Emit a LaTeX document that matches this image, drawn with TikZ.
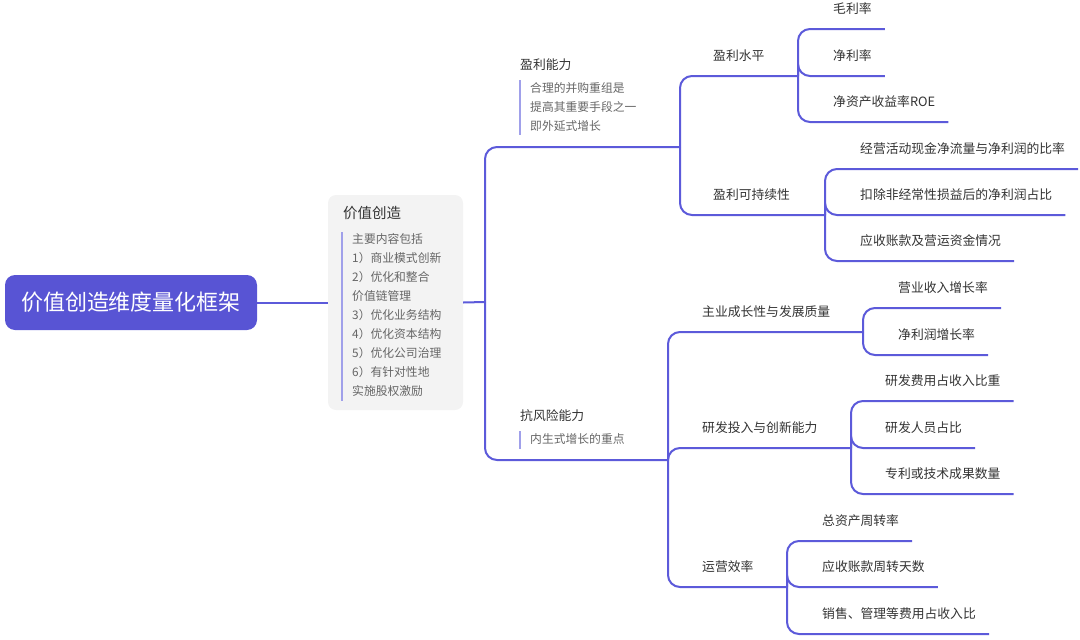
\documentclass[tikz,border=0pt]{standalone}
\usepackage{fontspec}
\setmainfont{Noto Sans CJK SC}
\usetikzlibrary{calc}
\definecolor{linec}{RGB}{92,90,218}
\definecolor{rootc}{RGB}{88,84,212}
\definecolor{boxc}{RGB}{243,243,243}
\definecolor{barc}{RGB}{160,160,234}
\definecolor{textc}{RGB}{51,51,51}
\definecolor{notec}{RGB}{102,102,102}
\tikzset{
  link/.style={draw=linec, line width=2pt, rounded corners=12pt},
  topic/.style={anchor=west, inner sep=0pt, text=textc, font=\fontsize{12.8}{15}\selectfont},
  notetext/.style={anchor=west, inner sep=0pt, text=notec, font=\fontsize{11.8}{14}\selectfont},
  notebar/.style={draw=barc, line width=2pt},
}
\newcommand{\leaf}[4]{% name, x, y(text), label
  \node[topic] (#1) at (#2,#3) {#4};
  \coordinate (#1u) at ($(#1.east)+(13,20)$);
}
\begin{document}
\begin{tikzpicture}[x=1pt,y=-1pt]
\useasboundingbox (0,0) rectangle (1080,640);
% root
\node[fill=rootc, rounded corners=10pt, minimum width=252pt, minimum height=55pt,
      text=white, font=\fontsize{22}{26}\selectfont, inner sep=0pt] (root) at (131,302.5) {价值创造维度量化框架};
% gray box
\node[fill=boxc, rounded corners=8pt, minimum width=135pt, minimum height=215pt, inner sep=0pt] (gray) at (395.5,302.5) {};
\node[anchor=west, inner sep=0pt, text=textc, font=\fontsize{14.5}{17}\selectfont] (gtitle) at (343,213) {价值创造};
\coordinate (gbt) at (342,232);
\coordinate (gbb) at (342,401);
\draw[notebar] (gbt) -- (gbb);
\node[notetext] (g1) at (352,238.5) {主要内容包括};
\node[notetext] (g2) at (352,257.6) {1）商业模式创新};
\node[notetext] (g3) at (352,276.7) {2）优化和整合};
\node[notetext] (g4) at (352,295.8) {价值链管理};
\node[notetext] (g5) at (352,314.9) {3）优化业务结构};
\node[notetext] (g6) at (352,334.0) {4）优化资本结构};
\node[notetext] (g7) at (352,353.1) {5）优化公司治理};
\node[notetext] (g8) at (352,372.2) {6）有针对性地};
\node[notetext] (g9) at (352,391.3) {实施股权激励};
\draw[link] (root.east) -- (gray.west);
% junctions
\coordinate (j1) at (485,302);
\coordinate (j2a) at (680,147);
\coordinate (j2b) at (668,460);
\coordinate (j3a) at (798,76);
\coordinate (j3b) at (825,215);
\coordinate (j3c) at (863,332);
\coordinate (j3d) at (851,448);
\coordinate (j3e) at (787,587);
\draw[link] (gray.east) -- (j1);
% level 1
\node[topic] (a) at (520,65) {盈利能力};
\coordinate (abt) at (520,80);
\coordinate (abb) at (520,135);
\draw[notebar] (abt) -- (abb);
\node[notetext] (an1) at (530,88) {合理的并购重组是};
\node[notetext] (an2) at (530,107) {提高其重要手段之一};
\node[notetext] (an3) at (530,126) {即外延式增长};
\node[topic] (b) at (520,416) {抗风险能力};
\coordinate (bbt) at (520,431);
\coordinate (bbb) at (520,449);
\draw[notebar] (bbt) -- (bbb);
\node[notetext] (bn1) at (530,439) {内生式增长的重点};
\draw[link] (j1) |- (j2a);
\draw[link] (j1) |- (j2b);
% level 2
\node[topic] (a1) at (713,56) {盈利水平};
\node[topic] (a2) at (713,195) {盈利可持续性};
\node[topic] (b1) at (702,312) {主业成长性与发展质量};
\node[topic] (b2) at (702,428) {研发投入与创新能力};
\node[topic] (b3) at (702,567) {运营效率};
\draw[link] (j2a) |- (j3a);
\draw[link] (j2a) |- (j3b);
\draw[link] (j2b) |- (j3c);
\draw[link] (j2b) |- (j3d);
\draw[link] (j2b) |- (j3e);
% level 3
\leaf{a11}{833}{9}{毛利率}
\leaf{a12}{833}{56}{净利率}
\leaf{a13}{833}{102}{净资产收益率ROE}
\draw[link] (j3a) |- (a11u);
\draw[link] (j3a) |- (a12u);
\draw[link] (j3a) |- (a13u);
\leaf{a21}{860}{149}{经营活动现金净流量与净利润的比率}
\leaf{a22}{860}{195}{扣除非经常性损益后的净利润占比}
\leaf{a23}{860}{241}{应收账款及营运资金情况}
\draw[link] (j3b) |- (a21u);
\draw[link] (j3b) |- (a22u);
\draw[link] (j3b) |- (a23u);
\leaf{b11}{898}{288}{营业收入增长率}
\leaf{b12}{898}{335}{净利润增长率}
\draw[link] (j3c) |- (b11u);
\draw[link] (j3c) |- (b12u);
\leaf{b21}{885}{381}{研发费用占收入比重}
\leaf{b22}{885}{428}{研发人员占比}
\leaf{b23}{885}{474}{专利或技术成果数量}
\draw[link] (j3d) |- (b21u);
\draw[link] (j3d) |- (b22u);
\draw[link] (j3d) |- (b23u);
\leaf{b31}{822}{521}{总资产周转率}
\leaf{b32}{822}{567}{应收账款周转天数}
\leaf{b33}{822}{614}{销售、管理等费用占收入比}
\draw[link] (j3e) |- (b31u);
\draw[link] (j3e) |- (b32u);
\draw[link] (j3e) |- (b33u);
\end{tikzpicture}
\end{document}
